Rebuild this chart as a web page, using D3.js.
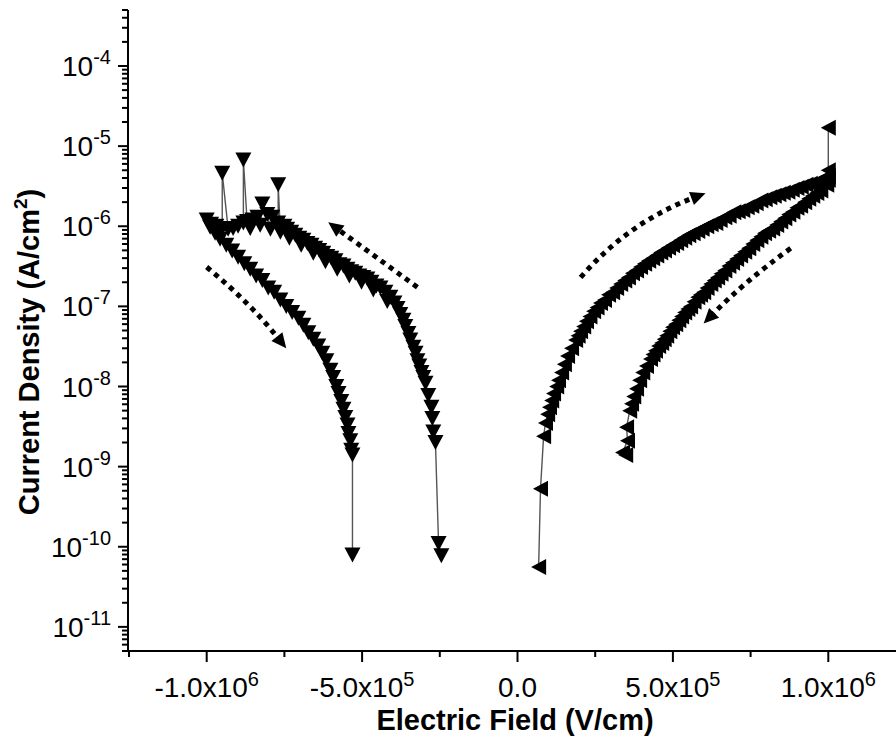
<!DOCTYPE html>
<html><head><meta charset="utf-8">
<script src="https://cdn.jsdelivr.net/npm/d3@7"></script>
<style>
body{margin:0;background:#fff}
svg{display:block}
text{font-family:"Liberation Sans",Arial,sans-serif;fill:#000}
</style>
</head><body>
<svg id="c" width="896" height="740"></svg>
<script>
// ---------- DATA (Electric field V/cm, current density A/cm^2) ----------
const negSweepOut = [[-2.45e5,7.7e-11],[-2.54e5,1.1e-10],[-2.64e5,2.0e-9],[-2.71e5,2.7e-9],[-2.74e5,4.0e-9],[-2.77e5,5.5e-9],[-2.87e5,7.7e-9],[-2.96e5,1.1e-8],[-3.03e5,1.3e-8],[-3.09e5,1.5e-8],[-3.16e5,1.8e-8],[-3.22e5,2.1e-8],[-3.28e5,2.6e-8],[-3.35e5,3.1e-8],[-3.45e5,3.8e-8],[-3.51e5,4.6e-8],[-3.61e5,5.6e-8],[-3.67e5,6.7e-8],[-3.77e5,7.9e-8],[-3.86e5,9.4e-8],[-3.96e5,1.1e-7],[-4.09e5,1.3e-7],[-4.19e5,1.15e-7],[-4.25e5,1.5e-7],[-4.41e5,1.7e-7],[-4.54e5,1.8e-7],[-4.64e5,1.6e-7],[-4.70e5,2.0e-7],[-4.83e5,2.2e-7],[-4.96e5,2.3e-7],[-5.02e5,2.0e-7],[-5.09e5,2.4e-7],[-5.22e5,2.6e-7],[-5.35e5,2.7e-7],[-5.41e5,2.4e-7],[-5.47e5,2.9e-7],[-5.60e5,3.2e-7],[-5.73e5,3.3e-7],[-5.80e5,2.9e-7],[-5.86e5,3.7e-7],[-5.99e5,4.0e-7],[-6.12e5,4.2e-7],[-6.18e5,3.6e-7],[-6.25e5,4.6e-7],[-6.38e5,5.0e-7],[-6.51e5,5.3e-7],[-6.57e5,4.6e-7],[-6.63e5,5.8e-7],[-6.76e5,6.1e-7],[-6.89e5,6.7e-7],[-6.96e5,5.8e-7],[-7.02e5,7.1e-7],[-7.15e5,7.7e-7],[-7.28e5,8.4e-7],[-7.34e5,7.1e-7],[-7.41e5,9.2e-7],[-7.50e5,1.0e-6],[-7.63e5,8.4e-7],[-7.70e5,3.3e-6],[-7.70e5,1.1e-6],[-7.89e5,1.3e-6],[-7.95e5,9.2e-7],[-8.05e5,1.4e-6],[-8.21e5,1.9e-6],[-8.28e5,1.03e-6],[-8.37e5,1.3e-6],[-8.53e5,1.2e-6],[-8.60e5,9.4e-7],[-8.70e5,1.15e-6],[-8.82e5,6.7e-6],[-8.82e5,1.1e-6],[-8.99e5,1.0e-6],[-9.15e5,9.4e-7],[-9.31e5,9.2e-7],[-9.50e5,4.6e-6],[-9.50e5,9.4e-7],[-9.69e5,1.0e-6],[-9.86e5,1.06e-6],[-1.0e6,1.2e-6]];
const negSweepBack = [[-9.89e5,9.7e-7],[-9.73e5,8.2e-7],[-9.57e5,6.9e-7],[-9.37e5,5.8e-7],[-9.18e5,4.9e-7],[-8.99e5,4.1e-7],[-8.79e5,3.4e-7],[-8.60e5,2.9e-7],[-8.41e5,2.4e-7],[-8.21e5,2.1e-7],[-8.02e5,1.7e-7],[-7.83e5,1.5e-7],[-7.63e5,1.2e-7],[-7.44e5,1.0e-7],[-7.25e5,8.4e-8],[-7.05e5,7.1e-8],[-6.89e5,5.8e-8],[-6.73e5,4.7e-8],[-6.57e5,3.9e-8],[-6.41e5,3.2e-8],[-6.28e5,2.6e-8],[-6.15e5,2.1e-8],[-6.02e5,1.6e-8],[-5.93e5,1.3e-8],[-5.83e5,1.0e-8],[-5.76e5,8.2e-9],[-5.67e5,6.5e-9],[-5.60e5,5.2e-9],[-5.54e5,4.1e-9],[-5.47e5,3.3e-9],[-5.44e5,2.6e-9],[-5.38e5,2.1e-9],[-5.35e5,1.6e-9],[-5.31e5,1.4e-9],[-5.31e5,7.9e-11]];
const posSweepOut = [[6.8e4,5.6e-11],[7.4e4,5.3e-10],[8.4e4,2.4e-9],[9.0e4,3.5e-9],[9.7e4,4.5e-9],[1.03e5,5.5e-9],[1.10e5,6.7e-9],[1.16e5,8.2e-9],[1.26e5,1.0e-8],[1.32e5,1.2e-8],[1.42e5,1.5e-8],[1.51e5,1.9e-8],[1.61e5,2.4e-8],[1.74e5,3.0e-8],[1.87e5,3.8e-8],[1.95e5,4.3e-8],[2.03e5,4.9e-8],[2.13e5,5.6e-8],[2.22e5,6.5e-8],[2.33e5,7.5e-8],[2.45e5,8.7e-8],[2.56e5,9.7e-8],[2.67e5,1.1e-7],[2.80e5,1.2e-7],[2.93e5,1.4e-7],[3.06e5,1.5e-7],[3.19e5,1.7e-7],[3.32e5,1.9e-7],[3.45e5,2.1e-7],[3.57e5,2.3e-7],[3.70e5,2.6e-7],[3.83e5,2.8e-7],[3.96e5,3.1e-7],[4.09e5,3.4e-7],[4.22e5,3.7e-7],[4.35e5,4.0e-7],[4.48e5,4.3e-7],[4.61e5,4.7e-7],[4.73e5,5.0e-7],[4.86e5,5.4e-7],[4.99e5,5.8e-7],[5.12e5,6.2e-7],[5.25e5,6.7e-7],[5.38e5,7.2e-7],[5.51e5,7.7e-7],[5.65e5,8.2e-7],[5.80e5,8.7e-7],[5.94e5,9.3e-7],[6.09e5,1.0e-6],[6.23e5,1.06e-6],[6.38e5,1.1e-6],[6.52e5,1.2e-6],[6.67e5,1.3e-6],[6.81e5,1.35e-6],[6.96e5,1.5e-6],[7.10e5,1.54e-6],[7.25e5,1.6e-6],[7.39e5,1.73e-6],[7.54e5,1.8e-6],[7.68e5,1.94e-6],[7.83e5,2.1e-6],[7.97e5,2.17e-6],[8.12e5,2.3e-6],[8.26e5,2.4e-6],[8.41e5,2.5e-6],[8.55e5,2.62e-6],[8.70e5,2.7e-6],[8.84e5,2.86e-6],[8.99e5,3.0e-6],[9.13e5,3.12e-6],[9.28e5,3.3e-6],[9.42e5,3.4e-6],[9.57e5,3.5e-6],[9.69e5,3.71e-6],[9.82e5,3.9e-6],[1.0e6,4.2e-6],[1.0e6,5.0e-6],[1.0e6,1.7e-5],[1.0e6,3.8e-6]];
const posSweepBack = [[9.95e5,3.3e-6],[9.76e5,2.8e-6],[9.63e5,2.6e-6],[9.50e5,2.4e-6],[9.37e5,2.2e-6],[9.24e5,2.0e-6],[9.11e5,1.8e-6],[8.99e5,1.7e-6],[8.86e5,1.52e-6],[8.73e5,1.4e-6],[8.60e5,1.26e-6],[8.47e5,1.15e-6],[8.34e5,1.04e-6],[8.21e5,9.4e-7],[8.08e5,8.8e-7],[7.95e5,8.2e-7],[7.83e5,7.4e-7],[7.70e5,6.7e-7],[7.57e5,6.0e-7],[7.44e5,5.3e-7],[7.31e5,4.8e-7],[7.18e5,4.3e-7],[7.05e5,3.9e-7],[6.92e5,3.5e-7],[6.80e5,3.2e-7],[6.67e5,2.8e-7],[6.55e5,2.55e-7],[6.44e5,2.3e-7],[6.33e5,2.1e-7],[6.22e5,1.9e-7],[6.10e5,1.7e-7],[5.99e5,1.5e-7],[5.89e5,1.4e-7],[5.80e5,1.3e-7],[5.68e5,1.14e-7],[5.57e5,1.0e-7],[5.48e5,9.3e-8],[5.38e5,8.4e-8],[5.28e5,7.5e-8],[5.19e5,6.7e-8],[5.09e5,6.0e-8],[4.99e5,5.5e-8],[4.90e5,4.9e-8],[4.80e5,4.3e-8],[4.72e5,3.9e-8],[4.64e5,3.5e-8],[4.54e5,3.2e-8],[4.44e5,2.8e-8],[4.36e5,2.5e-8],[4.28e5,2.2e-8],[4.15e5,1.8e-8],[4.03e5,1.5e-8],[3.93e5,1.2e-8],[3.83e5,9.4e-9],[3.74e5,7.5e-9],[3.67e5,6.1e-9],[3.61e5,5.0e-9],[3.51e5,3.1e-9],[3.54e5,2.1e-9],[3.38e5,1.5e-9],[3.48e5,1.4e-9]];

// sweep-direction arrows (data coordinates: start, bend, tip)
const sweepArrows = [
  {from:[-1.0e6,3.1e-7], via:[-8.6e5,1.1e-7], to:[-7.44e5,3.0e-8]},
  {from:[-3.22e5,1.73e-7], via:[-4.65e5,4.4e-7], to:[-6.09e5,1.12e-6]},
  {from:[2.03e5,2.3e-7], via:[3.57e5,1.12e-6], to:[6.05e5,2.58e-6]},
  {from:[8.79e5,5.3e-7], via:[7.28e5,2.0e-7], to:[5.99e5,6.1e-8]}
];

// ticks
const xMajorTicks = [-1e6,-5e5,0,5e5,1e6];
const xTickBase = ["-1.0x10","-5.0x10","0.0","5.0x10","1.0x10"];
const xTickSup  = ["6","5","","5","6"];
const xMinorTicks = [-1.25e6,-7.5e5,-2.5e5,2.5e5,7.5e5,1.25e6];
const yMajorExps = [-11,-10,-9,-8,-7,-6,-5,-4];

const xTitle = "Electric Field (V/cm)";
const yTitle = "Current Density (A/cm";

// ---------- CHART ----------
const svg = d3.select("#c");
const x = d3.scaleLinear().domain([-1.25e6,1.25e6]).range([129,906]);
const y = d3.scaleLog().domain([5e-12,5e-4]).range([651,10]);

const yMajor = yMajorExps.map(e=>Math.pow(10,e));
const yMinor = [];
for(let e=-12;e<=-4;e++) for(let k=2;k<=9;k++){const v=k*Math.pow(10,e); if(v>=5e-12*0.999 && v<=5e-4*1.001) yMinor.push(v);}

// series lines
const line = d3.line().x(d=>x(d[0])).y(d=>y(d[1]));
const negAll = negSweepOut.concat(negSweepBack);
const posAll = posSweepOut.concat(posSweepBack);
svg.append("path").attr("d",line(negAll)).attr("fill","none").attr("stroke","#555").attr("stroke-width",1.4);
svg.append("path").attr("d",line(posAll)).attr("fill","none").attr("stroke","#555").attr("stroke-width",1.4);

// markers
const downTri = "M-8,-7.5L8,-7.5L0,7.5Z";
const leftTri = "M7.5,-8L7.5,8L-7.5,0Z";
svg.append("g").selectAll("path").data(negAll).join("path")
  .attr("d",downTri).attr("transform",d=>`translate(${x(d[0])},${y(d[1])})`).attr("fill","#000");
svg.append("g").selectAll("path").data(posAll).join("path")
  .attr("d",leftTri).attr("transform",d=>`translate(${x(d[0])},${y(d[1])})`).attr("fill","#000");

// arrows
const ag = svg.append("g");
sweepArrows.forEach(a=>{
  const p0=[x(a.from[0]),y(a.from[1])], c=[x(a.via[0]),y(a.via[1])], p2=[x(a.to[0]),y(a.to[1])];
  const dx=p2[0]-c[0], dy=p2[1]-c[1], L=Math.hypot(dx,dy), ux=dx/L, uy=dy/L;
  const hl=15, hw=7;
  const b=[p2[0]-ux*hl, p2[1]-uy*hl];
  ag.append("path").attr("d",`M${p0[0]},${p0[1]}Q${c[0]},${c[1]} ${b[0]+ux*2},${b[1]+uy*2}`)
    .attr("fill","none").attr("stroke","#000").attr("stroke-width",5).attr("stroke-dasharray","5 5");
  ag.append("path").attr("d",`M${p2[0]},${p2[1]}L${b[0]-uy*hw},${b[1]+ux*hw}L${b[0]+uy*hw},${b[1]-ux*hw}Z`).attr("fill","#000");
});

// x axis
const gx = svg.append("g").attr("transform","translate(0,651)");
gx.call(d3.axisBottom(x).tickValues(xMinorTicks).tickSize(6).tickSizeOuter(0).tickFormat("").offset(0));
gx.select(".domain").remove();
const gx2 = svg.append("g").attr("transform","translate(0,651)");
gx2.call(d3.axisBottom(x).tickValues(xMajorTicks).tickSize(11).tickSizeOuter(0).offset(0));
gx2.select(".domain").attr("d","M127,0H906").attr("stroke-width",2);
svg.selectAll(".tick line").attr("stroke-width",2);
gx2.selectAll(".tick text").each(function(d,i){
  const t=d3.select(this); t.text(null).attr("y",46).attr("dy",null).attr("font-size",28).attr("font-family",null);
  t.append("tspan").text(xTickBase[i]);
  if(xTickSup[i]) t.append("tspan").attr("dy",-11).attr("font-size",20).text(xTickSup[i]);
});

// y axis
const gy = svg.append("g").attr("transform","translate(128,0)");
gy.call(d3.axisLeft(y).tickValues(yMinor).tickSize(6).tickSizeOuter(0).tickFormat("").offset(0));
gy.select(".domain").remove();
const gy2 = svg.append("g").attr("transform","translate(128,0)");
gy2.call(d3.axisLeft(y).tickValues(yMajor).tickSize(10).tickSizeOuter(0).offset(0));
gy2.select(".domain").attr("d","M0,652V10").attr("stroke-width",2);
svg.selectAll(".tick line").attr("stroke-width",2);
gy2.selectAll(".tick text").each(function(d,i){
  const t=d3.select(this); t.text(null).attr("x",-17).attr("dy",null).attr("y",10).attr("font-size",28).attr("font-family",null);
  t.append("tspan").text("10");
  t.append("tspan").attr("dy",-12).attr("font-size",20).text(String(yMajorExps[i]));
});

// titles
svg.append("text").attr("x",515).attr("y",730).attr("text-anchor","middle")
  .attr("font-size",29).attr("font-weight","bold").text(xTitle);
const yt = svg.append("text").attr("transform","translate(39,352) rotate(-90)").attr("text-anchor","middle")
  .attr("font-size",29).attr("font-weight","bold");
yt.append("tspan").text(yTitle);
yt.append("tspan").attr("dy",-12).attr("font-size",19).text("2");
yt.append("tspan").attr("dy",12).text(")");
</script>
</body></html>
